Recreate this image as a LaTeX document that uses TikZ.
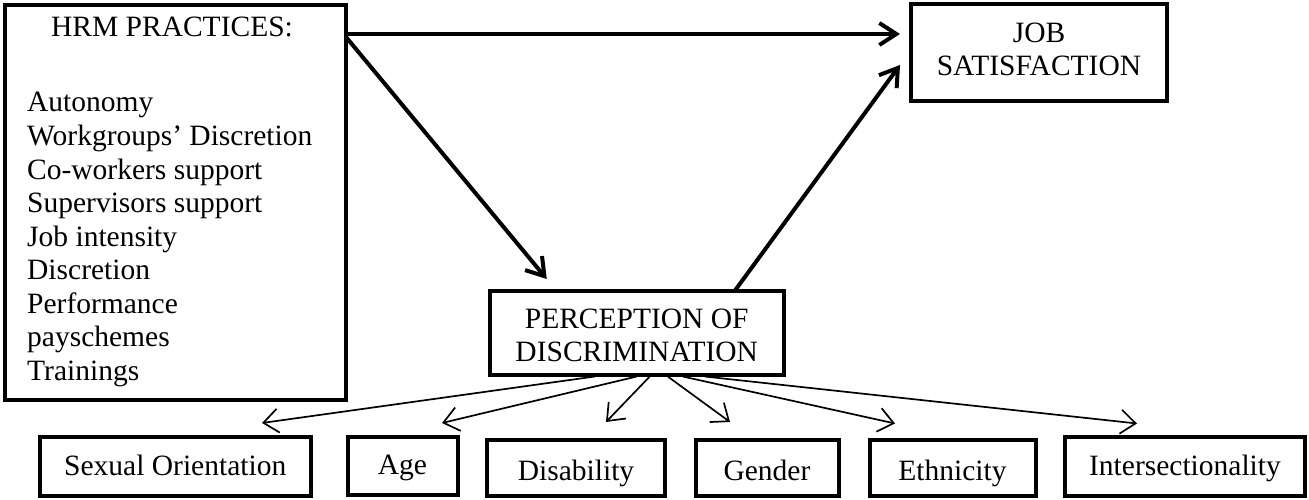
\documentclass[tikz,border=0pt]{standalone}
\usepackage{fontspec}
\setmainfont{Liberation Serif}
\usetikzlibrary{arrows.meta}
\begin{document}
\begin{tikzpicture}[x=1pt,y=-1pt,
  txtfont/.style={font=\fontsize{29.5}{33.5}\selectfont},
  box/.style={draw, line width=4pt, inner sep=0pt, outer sep=0pt, align=center, txtfont},
  txt/.style={inner sep=0pt, txtfont},
  lowtext/.style={text height=20pt, text depth=2pt},
  hightext/.style={text height=27pt, text depth=2pt},
  big/.style={line width=4pt, -{Straight Barb[length=17pt,width=22pt]}},
  thin/.style={line width=1.7pt, -{Straight Barb[length=15pt,width=24pt]}}]
\useasboundingbox (0,0) rectangle (1309,500);

% main boxes
\node[box, minimum width=341pt, minimum height=395pt] (hrm) at (175.5,202.5) {};
\node[txt, anchor=base] (hrmtitle) at (172,37) {HRM PRACTICES:};
\foreach \t [count=\i] in {Autonomy, Workgroups’ Discretion, Co-workers support, Supervisors support, Job intensity, Discretion, Performance, payschemes, Trainings}
  \node[txt, anchor=base west] (item\i) at (27,{112+33.5*(\i-1)}) {\t};

\node[box, minimum width=256pt, minimum height=97.5pt] (job) at (1039,52.75)
  {JOB\\SATISFACTION\rule[-7pt]{0pt}{7pt}};
\node[box, minimum width=294.5pt, minimum height=84pt] (p) at (636.75,332.5)
  {\rule{0pt}{25pt}PERCEPTION OF\\DISCRIMINATION};

% bottom boxes
\node[box, lowtext, minimum width=270.5pt, minimum height=59pt] (so) at (175.25,466) {Sexual Orientation};
\node[box, lowtext, minimum width=110pt, minimum height=58pt] (age) at (402.5,465.5) {Age};
\node[box, hightext, minimum width=178pt, minimum height=56pt] (dis) at (576,467.5) {Disability};
\node[box, hightext, minimum width=143pt, minimum height=56pt] (gen) at (767,467.5) {Gender};
\node[box, hightext, minimum width=166pt, minimum height=56pt] (eth) at (952.5,467.5) {Ethnicity};
\node[box, lowtext, minimum width=240pt, minimum height=59pt] (int) at (1185,466) {Intersectionality};

% thick arrows
\draw[big] ([yshift=-29pt]hrm.north east) -- ([xshift=-11pt,yshift=18.75pt]job.west);
\draw[big] ([yshift=-32pt]hrm.north east) -- ([xshift=-90pt,yshift=11.5pt]p.north);
\draw[big] ([xshift=-49pt]p.north east) -- ([xshift=-11pt,yshift=-12.25pt]job.west);

% thin arrows
\draw[thin] ([xshift=-42pt,yshift=-2pt]p.south) -- ([xshift=86.75pt,yshift=13.5pt]so.north);
\draw[thin] ([xshift=0pt,yshift=-2pt]p.south) -- ([xshift=39.5pt,yshift=13.5pt]age.north);
\draw[thin] ([xshift=13pt,yshift=-2pt]p.south) -- ([xshift=30pt,yshift=17.5pt]dis.north);
\draw[thin] ([xshift=31pt,yshift=-2pt]p.south) -- ([xshift=-37pt,yshift=17.5pt]gen.north);
\draw[thin] ([xshift=46pt,yshift=-2pt]p.south) -- ([xshift=-57.5pt,yshift=16pt]eth.north);
\draw[thin] ([xshift=68pt,yshift=-2pt]p.south) -- ([xshift=-48pt,yshift=13pt]int.north);
\end{tikzpicture}
\end{document}
